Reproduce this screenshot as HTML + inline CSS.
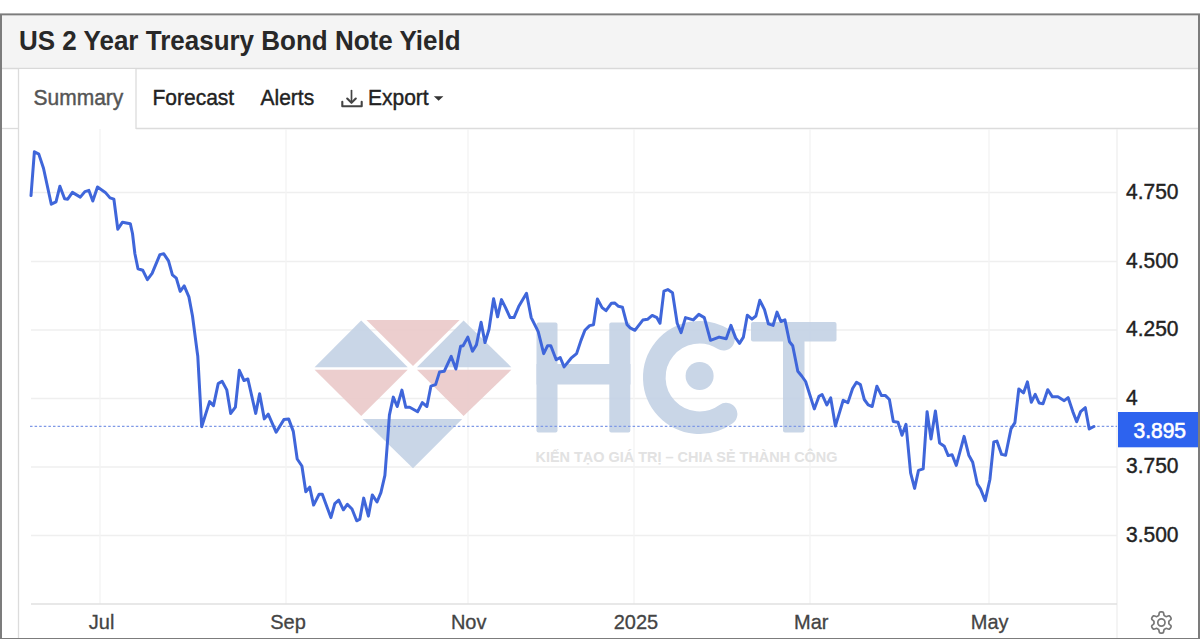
<!DOCTYPE html>
<html><head><meta charset="utf-8">
<style>
html,body{margin:0;padding:0;width:1200px;height:639px;overflow:hidden;background:#fff;}
svg{position:absolute;left:0;top:0;font-family:"Liberation Sans",sans-serif;}
</style></head><body>
<svg width="1200" height="639" viewBox="0 0 1200 639">
<rect x="0" y="0" width="1200" height="639" fill="#fff"/>
<rect x="0" y="13.4" width="1200" height="625.6" fill="#7c7c7c"/>
<rect x="2" y="15.6" width="1196" height="622.4" fill="#fff"/>
<rect x="2" y="15.6" width="1196" height="52.9" fill="#f4f4f4"/>
<line x1="2" y1="68.5" x2="1198" y2="68.5" stroke="#d9d9d9" stroke-width="1.3"/>
<rect x="19" y="69" width="117" height="60" fill="#fff"/>
<line x1="2" y1="128.5" x2="18" y2="128.5" stroke="#dcdcdc" stroke-width="1.3"/>
<line x1="136" y1="128.5" x2="1198" y2="128.5" stroke="#dcdcdc" stroke-width="1.5"/>
<line x1="18.5" y1="69" x2="18.5" y2="638" stroke="#dcdcdc" stroke-width="1.3"/>
<line x1="136" y1="69" x2="136" y2="129" stroke="#dcdcdc" stroke-width="1.3"/>

<g stroke="#efefef" stroke-width="1.3" fill="none">
<line x1="31" y1="192.5" x2="1117" y2="192.5"/>
<line x1="31" y1="261.5" x2="1117" y2="261.5"/>
<line x1="31" y1="330" x2="1117" y2="330"/>
<line x1="31" y1="398.5" x2="1117" y2="398.5"/>
<line x1="31" y1="467" x2="1117" y2="467"/>
<line x1="31" y1="535.5" x2="1117" y2="535.5"/>
<line x1="100" y1="129" x2="100" y2="604" stroke="#f3f3f3"/>
<line x1="286" y1="129" x2="286" y2="604" stroke="#f3f3f3"/>
<line x1="468" y1="129" x2="468" y2="604" stroke="#f3f3f3"/>
<line x1="634" y1="129" x2="634" y2="604" stroke="#f3f3f3"/>
<line x1="810" y1="129" x2="810" y2="604" stroke="#f3f3f3"/>
<line x1="989" y1="129" x2="989" y2="604" stroke="#f3f3f3"/>
<line x1="1117" y1="129" x2="1117" y2="638"/>
</g>
<g opacity="0.93">
<polygon points="361.2,320.6 407.7,367.2 314.6,367.2" fill="#c5d3e6"/>
<polygon points="366.5,320.1 459.6,320.1 413,365.9" fill="#ebcbcb"/>
<polygon points="463.6,320.6 511.4,367.2 417,367.2" fill="#c5d3e6"/>
<polygon points="314.6,369.8 407.7,369.8 361.2,415.9" fill="#ebcbcb"/>
<polygon points="417,369.8 511.4,369.8 463.6,415.9" fill="#ebcbcb"/>
<polygon points="362.5,419 462.2,419 413,468.2" fill="#c5d3e6"/>
<rect x="536.5" y="322.4" width="21" height="110" rx="2" fill="#c5d3e6"/>
<rect x="609.3" y="322.4" width="21" height="110" rx="2" fill="#c5d3e6"/>
<rect x="536.5" y="364" width="94" height="20.5" fill="#c5d3e6"/>
<path d="M723.45 339.17 A 45.2 45.2 0 1 0 726.07 414.07" fill="none" stroke="#c5d3e6" stroke-width="22.6" stroke-linecap="round"/>
<circle cx="699.6" cy="376" r="14" fill="#c5d3e6"/>
<rect x="751" y="322" width="85.5" height="19.5" rx="2" fill="#c5d3e6"/>
<rect x="783" y="322" width="21.5" height="110.5" rx="2" fill="#c5d3e6"/>
<text x="535.5" y="461.6" font-size="15" font-weight="bold" fill="#e0e0e0" textLength="302" lengthAdjust="spacingAndGlyphs">KIẾN TẠO GIÁ TRỊ – CHIA SẺ THÀNH CÔNG</text>
</g>

<line x1="31" y1="604" x2="1117" y2="604" stroke="#e0e0e0" stroke-width="1.6"/>
<line x1="30" y1="426.4" x2="1117" y2="426.4" stroke="#7f99e6" stroke-width="1.3" stroke-dasharray="2.5 2.1"/>
<path d="M31 195.6 L34.4 151.7 L38.8 154.1 L43.5 168.2 L51.3 204.2 L56 201.8 L59.9 186.2 L64.6 198.7 L67.7 199.2 L72.4 192.4 L80.3 197.1 L84.9 191.6 L88.9 190.4 L92.8 201 L97.5 187 L105.3 192.4 L110 197.9 L113.9 199.2 L117.8 229.2 L122.5 222.2 L130.3 223.7 L132.5 233.5 L134.9 253.8 L138 268.7 L142.7 270.2 L147.4 279.6 L152.1 273.4 L159.9 254.6 L163.8 253.8 L168.5 260.9 L172.4 274.9 L176.3 278.1 L180.2 291.4 L184.2 285.9 L188.9 296.9 L192.5 316 L197.2 352 L197.8 356.3 L201.7 426.7 L209.6 401.6 L213.5 405.6 L218.2 383.6 L222.1 381.3 L226.8 389.9 L230.7 413.4 L235.4 407.1 L239.3 370.3 L244 380.5 L247.9 379 L255.7 413.4 L259.6 393.8 L264.3 418.9 L268.2 414.2 L276.1 432.2 L283.9 419.6 L288.6 418.9 L293.3 431.4 L297.2 459 L301.9 466 L305.8 491.8 L309.7 487.1 L313.6 505.1 L319.1 494.2 L322.3 494.2 L330.9 517.6 L334.8 503.6 L338.7 500.1 L343.4 509.8 L347.3 504.3 L352 509 L356.7 520.8 L359.8 519.2 L363.7 498.1 L368.4 516.1 L372.3 494.9 L377 502 L380.9 492.6 L384.9 475.4 L387.2 445.6 L389.4 415.1 L393.3 397.1 L397.2 406.5 L401.9 390.1 L405.8 407.3 L409.7 407.3 L417.6 411.7 L422.3 402.6 L426.9 406.5 L430.9 386.2 L435.6 384.6 L439.5 372.1 L444.2 371.3 L451.2 356.4 L455.9 369 L460.6 346.3 L463.1 345.7 L467.8 337.1 L472.5 351.2 L476.4 344.9 L481.1 322.3 L485 342.6 L489 329.3 L493.6 298.8 L497.6 316.8 L501.5 299.6 L505.4 307.4 L510.1 317.6 L514 317.6 L518.7 306.6 L526.5 293.3 L531.2 317.6 L538.2 331.6 L543.7 353.6 L547.6 345.7 L550.8 345.7 L556.2 359.8 L560.2 357.5 L564.1 366.9 L571.1 358.2 L576.6 353.6 L581 340.4 L584.9 330.3 L589.6 325.6 L593.5 324.8 L597.4 299 L602.1 307.6 L606 310.7 L611.5 303.2 L614.6 302.9 L618.5 306.3 L622.4 307.2 L627.1 324.8 L630.2 327.9 L634.9 330.3 L642.8 320.1 L647.5 319.3 L652.2 315.4 L656.9 317.7 L660 323.2 L663.9 291.1 L667.8 289.6 L672.5 292.7 L677.2 323.2 L681.1 332.6 L685.5 317.6 L693.3 319.9 L698.8 314.4 L704.3 317.6 L710.5 340.3 L719.1 337.1 L726.2 338.7 L730.9 325.4 L735.6 337.9 L739.5 343.4 L743.4 337.1 L747.3 315.2 L752 319.1 L755.9 316 L759.8 300.3 L764.5 309.7 L768.4 323.8 L773.1 325.4 L777 312.1 L780.9 321.5 L784.9 319.9 L789.5 341.8 L792.7 345.7 L797.8 371.3 L801.7 376 L805.6 381.5 L814.3 408.9 L819 396.3 L822.1 394.5 L826.8 404.9 L830.7 397.9 L835.4 426.1 L843.2 400.3 L847.9 402.6 L852.6 388.5 L856.5 382.3 L860.4 384.6 L864.3 399.5 L868.2 404.9 L872.2 406.5 L876.9 386.2 L881.5 395.6 L885.5 395.6 L889.4 399.5 L893.3 421.4 L898 422.2 L902 435.2 L906 424.3 L910.6 472.8 L914.6 488.4 L918.5 470.4 L923.2 468.9 L927.1 411.7 L931 439.1 L935.4 411 L939.6 443 L944.3 446.2 L948.2 455.6 L952.1 454.8 L956.3 465.4 L964.1 436.4 L968.8 455.2 L972.7 462.3 L977.4 484.2 L980.5 488.9 L985.2 500.6 L989.9 479.5 L993.8 441.9 L996.9 441.1 L1001.6 454.4 L1005.6 455.2 L1011 428.9 L1014.9 422.6 L1018.8 389 L1023.5 392.9 L1027.4 381.9 L1031.3 402.3 L1035.2 394.4 L1039.1 403 L1043 403.8 L1047.7 389.7 L1052.4 396.8 L1057.9 396.8 L1064.2 400.7 L1068.1 397.6 L1072.8 411.6 L1076.7 421.8 L1080.6 411.6 L1085.3 407.7 L1089.2 428.9 L1093.9 426.5" fill="none" stroke="#3f66da" stroke-width="3.0" stroke-linejoin="round" stroke-linecap="round"/>
<g stroke="#444" stroke-width="2" fill="none" stroke-linecap="round" stroke-linejoin="round">
<path d="M351.5 90.5 V102" stroke-width="1.7"/><path d="M347.2 98.6 L351.5 102.8 L355.8 98.6" stroke-width="2.1"/>
<path d="M342.3 101.8 V106.3 H361.7 V101.8" stroke-width="2.1"/>
</g>
<path d="M433.8 96.2 H443.4 L438.6 100.8Z" fill="#333"/>
<rect x="1118" y="412" width="80" height="35.3" fill="#2d63ef"/>
<g transform="translate(1133.5,437.5) scale(1,1.06)"><text x="0" y="0" font-size="21" font-weight="normal" fill="#fff" stroke="#fff" stroke-width="0.6" text-anchor="start" >3.895</text></g>
<path d="M1168.80 622.50 L1168.80 622.76 L1168.80 623.02 L1168.81 623.28 L1168.85 623.55 L1168.97 623.83 L1169.25 624.17 L1169.77 624.59 L1170.41 625.08 L1170.88 625.58 L1171.09 626.03 L1171.11 626.42 L1171.04 626.79 L1170.91 627.14 L1170.76 627.47 L1170.58 627.80 L1170.39 628.12 L1170.17 628.42 L1169.93 628.70 L1169.66 628.95 L1169.30 629.13 L1168.81 629.17 L1168.14 629.01 L1167.39 628.71 L1166.77 628.47 L1166.34 628.39 L1166.03 628.43 L1165.78 628.53 L1165.55 628.65 L1165.32 628.78 L1165.10 628.91 L1164.88 629.04 L1164.65 629.17 L1164.43 629.31 L1164.22 629.48 L1164.03 629.72 L1163.88 630.14 L1163.78 630.80 L1163.67 631.59 L1163.47 632.25 L1163.19 632.66 L1162.86 632.87 L1162.50 632.99 L1162.14 633.06 L1161.77 633.09 L1161.40 633.10 L1161.03 633.09 L1160.66 633.06 L1160.30 632.99 L1159.94 632.87 L1159.61 632.66 L1159.33 632.25 L1159.13 631.59 L1159.02 630.80 L1158.92 630.14 L1158.77 629.72 L1158.58 629.48 L1158.37 629.31 L1158.15 629.17 L1157.92 629.04 L1157.70 628.91 L1157.48 628.78 L1157.25 628.65 L1157.02 628.53 L1156.77 628.43 L1156.46 628.39 L1156.03 628.47 L1155.41 628.71 L1154.66 629.01 L1153.99 629.17 L1153.50 629.13 L1153.14 628.95 L1152.87 628.70 L1152.63 628.42 L1152.41 628.12 L1152.22 627.80 L1152.04 627.47 L1151.89 627.14 L1151.76 626.79 L1151.69 626.42 L1151.71 626.03 L1151.92 625.58 L1152.39 625.08 L1153.03 624.59 L1153.55 624.17 L1153.83 623.83 L1153.95 623.55 L1153.99 623.28 L1154.00 623.02 L1154.00 622.76 L1154.00 622.50 L1154.00 622.24 L1154.00 621.98 L1153.99 621.72 L1153.95 621.45 L1153.83 621.17 L1153.55 620.83 L1153.03 620.41 L1152.39 619.92 L1151.92 619.42 L1151.71 618.97 L1151.69 618.58 L1151.76 618.21 L1151.89 617.86 L1152.04 617.53 L1152.22 617.20 L1152.41 616.88 L1152.63 616.58 L1152.87 616.30 L1153.14 616.05 L1153.50 615.87 L1153.99 615.83 L1154.66 615.99 L1155.41 616.29 L1156.03 616.53 L1156.46 616.61 L1156.77 616.57 L1157.02 616.47 L1157.25 616.35 L1157.48 616.22 L1157.70 616.09 L1157.92 615.96 L1158.15 615.83 L1158.37 615.69 L1158.58 615.52 L1158.77 615.28 L1158.92 614.86 L1159.02 614.20 L1159.13 613.41 L1159.33 612.75 L1159.61 612.34 L1159.94 612.13 L1160.30 612.01 L1160.66 611.94 L1161.03 611.91 L1161.40 611.90 L1161.77 611.91 L1162.14 611.94 L1162.50 612.01 L1162.86 612.13 L1163.19 612.34 L1163.47 612.75 L1163.67 613.41 L1163.78 614.20 L1163.88 614.86 L1164.03 615.28 L1164.22 615.52 L1164.43 615.69 L1164.65 615.83 L1164.88 615.96 L1165.10 616.09 L1165.32 616.22 L1165.55 616.35 L1165.78 616.47 L1166.03 616.57 L1166.34 616.61 L1166.77 616.53 L1167.39 616.29 L1168.14 615.99 L1168.81 615.83 L1169.30 615.87 L1169.66 616.05 L1169.93 616.30 L1170.17 616.58 L1170.39 616.88 L1170.58 617.20 L1170.76 617.53 L1170.91 617.86 L1171.04 618.21 L1171.11 618.58 L1171.09 618.97 L1170.88 619.42 L1170.41 619.92 L1169.77 620.41 L1169.25 620.83 L1168.97 621.17 L1168.85 621.45 L1168.81 621.72 L1168.80 621.98 L1168.80 622.24Z" fill="none" stroke="#777" stroke-width="1.7" stroke-linejoin="round"/>
<circle cx="1161.4" cy="622.5" r="3.6" fill="none" stroke="#777" stroke-width="1.7"/>
<g transform="translate(19,49.8) scale(1,1.055)"><text x="0" y="0" font-size="26" font-weight="bold" fill="#282828" text-anchor="start" >US 2 Year Treasury Bond Note Yield</text></g>
<g transform="translate(33.5,105.4) scale(1,1.06)"><text x="0" y="0" font-size="21" font-weight="normal" fill="#555" stroke="#555" stroke-width="0.4" text-anchor="start" >Summary</text></g>
<g transform="translate(152.5,105.4) scale(1,1.06)"><text x="0" y="0" font-size="21" font-weight="normal" fill="#222" stroke="#222" stroke-width="0.4" text-anchor="start" >Forecast</text></g>
<g transform="translate(260.5,105.4) scale(1,1.06)"><text x="0" y="0" font-size="21" font-weight="normal" fill="#222" stroke="#222" stroke-width="0.4" text-anchor="start" >Alerts</text></g>
<g transform="translate(368,105.4) scale(1,1.06)"><text x="0" y="0" font-size="21" font-weight="normal" fill="#222" stroke="#222" stroke-width="0.4" text-anchor="start" >Export</text></g>
<g transform="translate(1126,198.7) scale(1,1.06)"><text x="0" y="0" font-size="21" font-weight="normal" fill="#222" stroke="#222" stroke-width="0.4" text-anchor="start" >4.750</text></g>
<g transform="translate(1126,267.7) scale(1,1.06)"><text x="0" y="0" font-size="21" font-weight="normal" fill="#222" stroke="#222" stroke-width="0.4" text-anchor="start" >4.500</text></g>
<g transform="translate(1126,336.2) scale(1,1.06)"><text x="0" y="0" font-size="21" font-weight="normal" fill="#222" stroke="#222" stroke-width="0.4" text-anchor="start" >4.250</text></g>
<g transform="translate(1126,404.7) scale(1,1.06)"><text x="0" y="0" font-size="21" font-weight="normal" fill="#222" stroke="#222" stroke-width="0.4" text-anchor="start" >4</text></g>
<g transform="translate(1126,473.2) scale(1,1.06)"><text x="0" y="0" font-size="21" font-weight="normal" fill="#222" stroke="#222" stroke-width="0.4" text-anchor="start" >3.750</text></g>
<g transform="translate(1126,541.7) scale(1,1.06)"><text x="0" y="0" font-size="21" font-weight="normal" fill="#222" stroke="#222" stroke-width="0.4" text-anchor="start" >3.500</text></g>
<g transform="translate(101.6,629.3) scale(1,1.05)"><text x="0" y="0" font-size="20" font-weight="normal" fill="#444" stroke="#444" stroke-width="0.3" text-anchor="middle" >Jul</text></g>
<g transform="translate(288,629.3) scale(1,1.05)"><text x="0" y="0" font-size="20" font-weight="normal" fill="#444" stroke="#444" stroke-width="0.3" text-anchor="middle" >Sep</text></g>
<g transform="translate(468.7,629.3) scale(1,1.05)"><text x="0" y="0" font-size="20" font-weight="normal" fill="#444" stroke="#444" stroke-width="0.3" text-anchor="middle" >Nov</text></g>
<g transform="translate(635.9,629.3) scale(1,1.05)"><text x="0" y="0" font-size="20" font-weight="normal" fill="#444" stroke="#444" stroke-width="0.3" text-anchor="middle" >2025</text></g>
<g transform="translate(811.3,629.3) scale(1,1.05)"><text x="0" y="0" font-size="20" font-weight="normal" fill="#444" stroke="#444" stroke-width="0.3" text-anchor="middle" >Mar</text></g>
<g transform="translate(989.7,629.3) scale(1,1.05)"><text x="0" y="0" font-size="20" font-weight="normal" fill="#444" stroke="#444" stroke-width="0.3" text-anchor="middle" >May</text></g>
</svg></body></html>
